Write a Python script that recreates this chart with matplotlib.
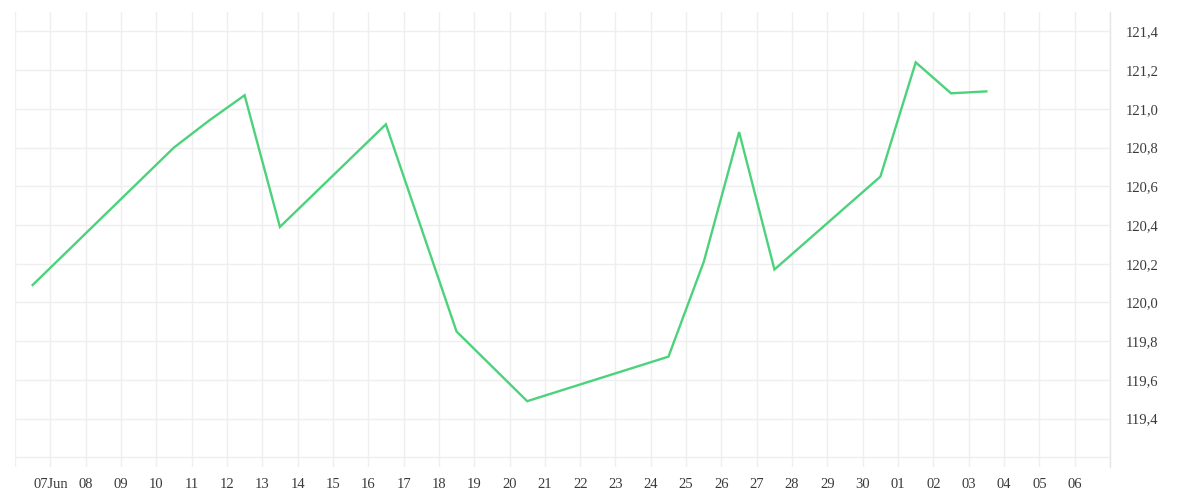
import numpy as np
import matplotlib
matplotlib.use("Agg")
import matplotlib.pyplot as plt
import matplotlib.dates as mdates
from matplotlib.ticker import FuncFormatter
from datetime import datetime, timedelta

# data points (recorded at midday)
DATES = ["2024-06-06", "2024-06-10", "2024-06-11", "2024-06-12", "2024-06-13",
         "2024-06-16", "2024-06-18", "2024-06-20", "2024-06-24", "2024-06-25",
         "2024-06-26", "2024-06-27", "2024-06-30", "2024-07-01", "2024-07-02",
         "2024-07-03"]
VALUES = [120.09, 120.80, 120.94, 121.07, 120.39,
          120.92, 119.85, 119.49, 119.72, 120.21,
          120.88, 120.17, 120.65, 121.24, 121.08,
          121.09]
Y_TICKS = [119.2, 119.4, 119.6, 119.8, 120.0, 120.2, 120.4, 120.6, 120.8, 121.0, 121.2, 121.4]

COLOR = "#4cd27b"
GRID = "#efefef"
TEXT = "#3a3a3a"

x = [datetime.strptime(d, "%Y-%m-%d") + timedelta(hours=12) for d in DATES]

fig = plt.figure(figsize=(12, 5), dpi=100)
ax = fig.add_axes([0.0125, 0.066, 0.9125, 0.91])

ax.plot(x, VALUES, color=COLOR, linewidth=1.7, solid_joinstyle="miter")

start = datetime(2024, 6, 6)
end = datetime(2024, 7, 7)
ax.set_xlim(start, end)
ax.set_ylim(119.15, 121.5)

days = [start + timedelta(days=i) for i in range((end - start).days + 1)]
ax.set_xticks(days)

def xlab(v, pos):
    d = mdates.num2date(v)
    if d.day == 6 and d.month == 6 or d.day == 7 and d.month == 7:
        return ""
    if d.day == 7 and d.month == 6:
        return "07Jun"
    return d.strftime("%d")

ax.xaxis.set_major_formatter(FuncFormatter(xlab))
ax.set_yticks(Y_TICKS)
ax.yaxis.set_major_formatter(FuncFormatter(
    lambda v, p: "" if v < 119.3 else f"{v:.1f}".replace(".", ",")))
ax.yaxis.tick_right()

ax.grid(True, color=GRID, linewidth=1)
ax.set_axisbelow(True)
for s in ["top", "left", "bottom"]:
    ax.spines[s].set_visible(False)
ax.spines["right"].set_color("#e6e6e6")
ax.spines["right"].set_linewidth(1)

ax.tick_params(axis="both", length=0, labelsize=10.5, labelcolor=TEXT)
ax.tick_params(axis="x", pad=8)
ax.tick_params(axis="y", pad=11)
for lab in ax.get_xticklabels() + ax.get_yticklabels():
    lab.set_family("Liberation Serif")

fig.savefig("out.png", dpi=100, facecolor="white")
